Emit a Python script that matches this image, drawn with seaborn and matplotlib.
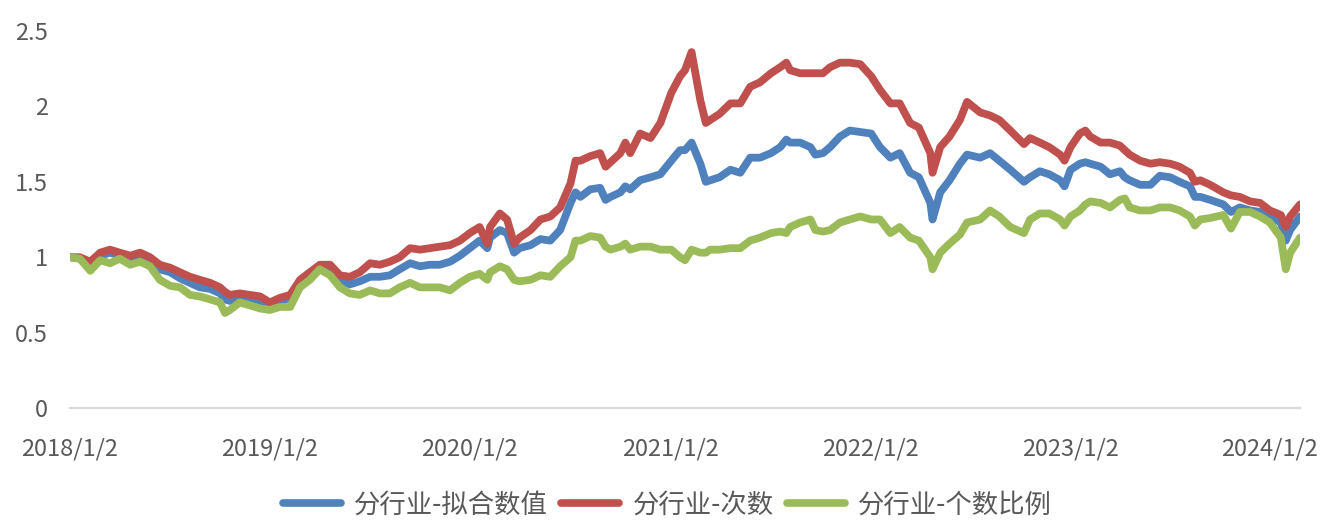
import numpy as np
import pandas as pd
import matplotlib
matplotlib.use("Agg")
import matplotlib.pyplot as plt
import seaborn as sns

dates = [
    "2018-01-02", "2018-01-20", "2018-02-08", "2018-02-26", "2018-03-16", "2018-04-03", "2018-04-22",
    "2018-05-10", "2018-05-28", "2018-06-15", "2018-07-04", "2018-07-22", "2018-08-09", "2018-08-27",
    "2018-09-15", "2018-10-03", "2018-10-12", "2018-10-21", "2018-11-08", "2018-11-27", "2018-12-15",
    "2019-01-02", "2019-01-20", "2019-02-08", "2019-02-26", "2019-03-16", "2019-04-03", "2019-04-22",
    "2019-05-10", "2019-05-28", "2019-06-15", "2019-07-04", "2019-07-22", "2019-08-09", "2019-08-27",
    "2019-09-15", "2019-10-03", "2019-10-21", "2019-11-08", "2019-11-27", "2019-12-15",
    "2020-01-02", "2020-01-20", "2020-02-03", "2020-02-08", "2020-02-26", "2020-03-10", "2020-03-23",
    "2020-04-02", "2020-04-22", "2020-05-10", "2020-05-28", "2020-06-15", "2020-07-04", "2020-07-13",
    "2020-07-22", "2020-08-09", "2020-08-27", "2020-09-06", "2020-09-15", "2020-10-03", "2020-10-12",
    "2020-10-21", "2020-11-08", "2020-11-27", "2020-12-15",
    "2021-01-04", "2021-01-20", "2021-01-29", "2021-02-10", "2021-02-26", "2021-03-08", "2021-03-16",
    "2021-04-02", "2021-04-22", "2021-05-10", "2021-05-28", "2021-06-15", "2021-07-05", "2021-07-22",
    "2021-08-02", "2021-08-09", "2021-08-27", "2021-09-15", "2021-09-24", "2021-10-08", "2021-10-21",
    "2021-11-08", "2021-11-26", "2021-12-15",
    "2022-01-04", "2022-01-20", "2022-02-08", "2022-02-25", "2022-03-16", "2022-04-01", "2022-04-22",
    "2022-04-26", "2022-05-10", "2022-05-27", "2022-06-15", "2022-06-28", "2022-07-22", "2022-08-09",
    "2022-08-26", "2022-09-15", "2022-10-10", "2022-10-21", "2022-11-08", "2022-11-25", "2022-12-15",
    "2022-12-23",
    "2023-01-03", "2023-01-20", "2023-01-30", "2023-02-08", "2023-02-27", "2023-03-16", "2023-04-03",
    "2023-04-12", "2023-04-21", "2023-05-10", "2023-05-29", "2023-06-15", "2023-07-04", "2023-07-21",
    "2023-08-09", "2023-08-18", "2023-08-28", "2023-09-15", "2023-10-09", "2023-10-23", "2023-11-08",
    "2023-11-27", "2023-12-15",
    "2024-01-02", "2024-01-22", "2024-01-31", "2024-02-08", "2024-02-26",
]

fit_values = [
    1.00, 0.99, 0.95, 1.01, 1.03, 1.01, 0.99, 1.01, 0.98, 0.92, 0.90, 0.86, 0.83, 0.80,
    0.79, 0.76, 0.72, 0.71, 0.73, 0.72, 0.71,
    0.68, 0.71, 0.73, 0.83, 0.88, 0.93, 0.93, 0.84, 0.82, 0.84, 0.87, 0.87, 0.88, 0.92,
    0.96, 0.94, 0.95, 0.95, 0.97, 1.01,
    1.06, 1.11, 1.06, 1.13, 1.18, 1.16, 1.03, 1.06, 1.08, 1.12, 1.11, 1.18, 1.36, 1.43,
    1.40, 1.45, 1.46, 1.38, 1.40, 1.43, 1.47, 1.45, 1.51, 1.53, 1.55,
    1.64, 1.71, 1.71, 1.76, 1.62, 1.50, 1.51, 1.53, 1.58, 1.56, 1.66, 1.66, 1.69, 1.73,
    1.78, 1.76, 1.76, 1.73, 1.68, 1.69, 1.73, 1.80, 1.84, 1.83,
    1.82, 1.73, 1.66, 1.69, 1.56, 1.53, 1.36, 1.25, 1.43, 1.51, 1.62, 1.68, 1.66, 1.69,
    1.64, 1.58, 1.50, 1.53, 1.57, 1.55, 1.51, 1.47,
    1.58, 1.62, 1.63, 1.62, 1.60, 1.55, 1.57, 1.53, 1.51, 1.48, 1.48, 1.54, 1.53, 1.50,
    1.47, 1.40, 1.40, 1.38, 1.35, 1.30, 1.33, 1.31, 1.30,
    1.27, 1.23, 1.11, 1.18, 1.27,
]

count_values = [
    1.00, 1.00, 0.97, 1.03, 1.05, 1.03, 1.01, 1.03, 1.00, 0.95, 0.93, 0.90, 0.87, 0.85,
    0.83, 0.80, 0.77, 0.75, 0.76, 0.75, 0.74,
    0.70, 0.73, 0.75, 0.85, 0.90, 0.95, 0.95, 0.88, 0.87, 0.90, 0.96, 0.95, 0.97, 1.00,
    1.06, 1.05, 1.06, 1.07, 1.08, 1.11,
    1.16, 1.20, 1.09, 1.20, 1.29, 1.25, 1.09, 1.13, 1.18, 1.25, 1.27, 1.33, 1.49, 1.64,
    1.64, 1.67, 1.69, 1.60, 1.63, 1.69, 1.76, 1.69, 1.82, 1.79, 1.89,
    2.09, 2.20, 2.24, 2.36, 2.04, 1.89, 1.91, 1.95, 2.02, 2.02, 2.13, 2.16, 2.22, 2.26,
    2.29, 2.24, 2.22, 2.22, 2.22, 2.22, 2.26, 2.29, 2.29, 2.28,
    2.20, 2.11, 2.02, 2.02, 1.89, 1.86, 1.69, 1.56, 1.73, 1.80, 1.91, 2.03, 1.96, 1.94,
    1.91, 1.84, 1.75, 1.79, 1.76, 1.73, 1.68, 1.64,
    1.73, 1.82, 1.84, 1.80, 1.76, 1.76, 1.74, 1.71, 1.68, 1.64, 1.62, 1.63, 1.62, 1.60,
    1.56, 1.50, 1.51, 1.48, 1.43, 1.41, 1.40, 1.37, 1.36,
    1.31, 1.28, 1.20, 1.27, 1.35,
]

ratio_values = [
    1.00, 0.99, 0.91, 0.98, 0.96, 0.99, 0.95, 0.97, 0.94, 0.85, 0.81, 0.80, 0.75, 0.74,
    0.72, 0.70, 0.63, 0.65, 0.70, 0.68, 0.66,
    0.65, 0.67, 0.67, 0.80, 0.85, 0.92, 0.88, 0.80, 0.76, 0.75, 0.78, 0.76, 0.76, 0.80,
    0.83, 0.80, 0.80, 0.80, 0.78, 0.83,
    0.87, 0.89, 0.85, 0.90, 0.94, 0.92, 0.85, 0.84, 0.85, 0.88, 0.87, 0.94, 1.00, 1.11,
    1.11, 1.14, 1.13, 1.07, 1.05, 1.07, 1.09, 1.05, 1.07, 1.07, 1.05,
    1.05, 1.00, 0.98, 1.05, 1.03, 1.03, 1.05, 1.05, 1.06, 1.06, 1.11, 1.13, 1.16, 1.17,
    1.16, 1.20, 1.23, 1.25, 1.18, 1.17, 1.18, 1.23, 1.25, 1.27,
    1.25, 1.25, 1.16, 1.20, 1.13, 1.11, 1.00, 0.92, 1.03, 1.09, 1.15, 1.23, 1.25, 1.31,
    1.27, 1.20, 1.16, 1.25, 1.29, 1.29, 1.25, 1.21,
    1.27, 1.31, 1.35, 1.37, 1.36, 1.33, 1.38, 1.39, 1.33, 1.31, 1.31, 1.33, 1.33, 1.31,
    1.27, 1.21, 1.25, 1.26, 1.28, 1.19, 1.30, 1.30, 1.27,
    1.23, 1.13, 0.92, 1.03, 1.13,
]

series_names = ["分行业-拟合数值", "分行业-次数", "分行业-个数比例"]
colors = ["#4f81bd", "#c0504d", "#9bbb59"]
xtick_dates = ["2018-01-02", "2019-01-02", "2020-01-02", "2021-01-02",
               "2022-01-02", "2023-01-02", "2024-01-02"]
xtick_labels = ["2018/1/2", "2019/1/2", "2020/1/2", "2021/1/2",
                "2022/1/2", "2023/1/2", "2024/1/2"]
ytick_values = [0, 0.5, 1, 1.5, 2, 2.5]
ytick_labels = ["0", "0.5", "1", "1.5", "2", "2.5"]

sns.set_style("white")
plt.rcParams["font.family"] = ["Noto Sans CJK SC", "DejaVu Sans"]

dt = pd.to_datetime(dates)
df = pd.concat([
    pd.DataFrame({"date": dt, "value": fit_values, "series": series_names[0]}),
    pd.DataFrame({"date": dt, "value": count_values, "series": series_names[1]}),
    pd.DataFrame({"date": dt, "value": ratio_values, "series": series_names[2]}),
], ignore_index=True)

fig = plt.figure(figsize=(13.35, 5.31), dpi=100)
ax = fig.add_axes([70 / 1335, 1 - 408 / 531, 1230 / 1335, 377 / 531])

sns.lineplot(data=df, x="date", y="value", hue="series", hue_order=series_names,
             palette=colors, linewidth=5.6, ax=ax, legend=True,
             solid_capstyle="round", solid_joinstyle="round")

ax.set_xlim(pd.Timestamp("2018-01-02"), pd.Timestamp("2024-02-26"))
ax.set_ylim(0, 2.5)
ax.set_xticks(pd.to_datetime(xtick_dates))
ax.set_xticklabels(xtick_labels)
ax.set_yticks(ytick_values)
ax.set_yticklabels(ytick_labels)
ax.set_xlabel("")
ax.set_ylabel("")

for s in ["top", "right", "left"]:
    ax.spines[s].set_visible(False)
ax.spines["bottom"].set_color("#d9d9d9")
ax.spines["bottom"].set_linewidth(1.6)
ax.tick_params(axis="x", direction="out", length=8, width=1.6, color="#d9d9d9",
               pad=13, labelsize=17, labelcolor="#595959")
ax.tick_params(axis="y", length=0, pad=16, labelsize=17, labelcolor="#595959")
ax.grid(False)

handles, labels = ax.get_legend_handles_labels()
ax.get_legend().remove()
leg = fig.legend(handles, labels, loc="center", bbox_to_anchor=(0.5, 1 - 505 / 531),
                 ncol=3, frameon=False, fontsize=19, handlelength=2.2,
                 handletextpad=0.5, columnspacing=0.5)
for t in leg.get_texts():
    t.set_color("#595959")
for h in leg.get_lines():
    h.set_linewidth(5.5)

fig.savefig("out.png", dpi=100)
